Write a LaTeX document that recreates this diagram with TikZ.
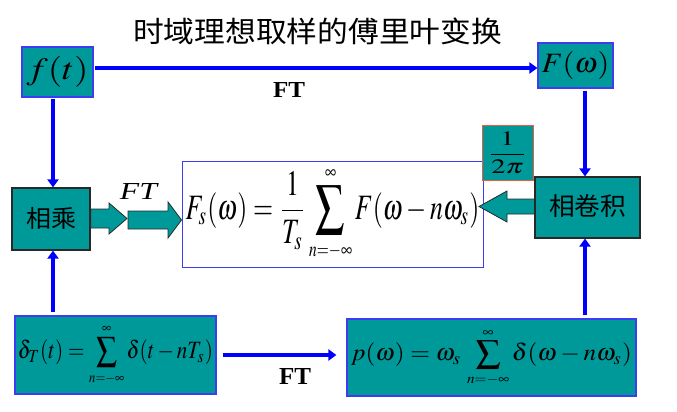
\documentclass[tikz,border=0pt]{standalone}
\usepackage{mathptmx}
\usepackage{graphicx}
\usepackage{fontspec}
\setmainfont{Liberation Serif}
\newfontfamily\cjk{Noto Sans CJK SC}
\usetikzlibrary{arrows.meta}

\definecolor{tealfill}{RGB}{0,153,153}
\definecolor{linkblue}{RGB}{0,0,255}
\definecolor{edgeblue}{RGB}{60,60,240}
\definecolor{edgedark}{RGB}{40,40,40}
\definecolor{edgeorange}{RGB}{240,90,60}

% fit a piece of text to a given ink width and total height
\newcommand{\fitto}[3]{\resizebox*{#1}{#2}{#3}}
% a summation sign, enlarged from text size, with small limits n=-inf .. inf
\newcommand{\midsum}[1]{\mathop{\vcenter{\hbox{\scalebox{#1}{$\textstyle\sum$}}}}\limits_{\scriptscriptstyle n=-\infty}^{\scriptscriptstyle\infty}}

\begin{document}
\begin{tikzpicture}[x=1pt,y=-1pt,
  box/.style={draw, fill=tealfill, inner sep=0pt, line width=1.2pt},
  bluebox/.style={box, draw=edgeblue},
  darkbox/.style={box, draw=edgedark},
  formbox/.style={draw=edgeblue, fill=white, inner sep=0pt, line width=1pt},
  factorbox/.style={box, draw=edgeorange, line width=1pt},
  link/.style={draw=linkblue, line width=3.5pt, -{Triangle[length=8pt,width=11pt]}},
  fat/.style={draw=edgedark, fill=tealfill, line width=0.8pt, line join=miter},
  lbl/.style={inner sep=0pt}
]
\useasboundingbox (0,0) rectangle (677,412);

% title
\node[lbl] (title) at (317.5,31.5) {\fitto{369pt}{27pt}{\cjk 时域理想取样的傅里叶变换}};

% boxes
\node[bluebox, minimum width=71pt, minimum height=50pt] (ft) at (57.5,72)
  {\fitto{62pt}{31pt}{$f(t)$}};
\node[bluebox, minimum width=75pt, minimum height=45pt] (Fw) at (575.5,65.5)
  {\fitto{68pt}{28pt}{$F(\omega)$}};
\node[darkbox, minimum width=78pt, minimum height=62pt] (mul) at (51,219)
  {\raisebox{2.5pt}{\fitto{50pt}{22pt}{\cjk 相乘}}};
\node[darkbox, minimum width=105pt, minimum height=61pt] (conv) at (587.5,207.5)
  {\raisebox{4pt}{\fitto{77pt}{23pt}{\cjk 相卷积}}};
\node[formbox, minimum width=301pt, minimum height=106pt] (form) at (332.5,214)
  {\fitto{294pt}{95pt}{$\displaystyle F_s(\omega)=\frac{1}{T_s}\midsum{1.6}F(\omega-n\omega_s)$}};
\node[factorbox, minimum width=51pt, minimum height=55pt] (inv) at (507.5,152.5)
  {\raisebox{-2.5pt}{\fitto{39pt}{42pt}{$\displaystyle\frac{1}{2\pi}$}}};
\node[bluebox, minimum width=201pt, minimum height=78pt] (dT) at (115.5,355)
  {\fitto{195pt}{62pt}{$\delta_T(t)=\midsum{1.4}\delta(t-nT_s)$}};
\node[bluebox, minimum width=289pt, minimum height=77pt] (pw) at (491.5,357.5)
  {\fitto{281pt}{59pt}{$p(\omega)=\omega_s\,\midsum{1.4}\delta(\omega-n\omega_s)$}};

% labels
\node[lbl] (fttop) at (289,89.5) {\fitto{32pt}{15pt}{\bfseries FT}};
\node[lbl] (ftbot) at (295,376.5) {\fitto{32pt}{16pt}{\bfseries FT}};
\node[lbl] (ftit) at (138.5,191) {\fitto{37pt}{16pt}{\itshape FT}};

% guide coordinates for the connectors
\coordinate (topy) at (0,68);
\coordinate (leftx) at (53,0);
\coordinate (rightx) at (585,0);

% thin blue connectors
\draw[link, shorten <=1.5pt] (ft.east |- topy) -- (Fw.west |- topy);
\draw[link, shorten <=1pt] (ft.south -| leftx) -- (mul.north -| leftx);
\draw[link, shorten <=3pt] (dT.north -| leftx) -- (mul.south -| leftx);
\draw[link, shorten <=2pt] (Fw.south -| rightx) -- (conv.north -| rightx);
\draw[link, shorten <=3pt] (pw.north -| rightx) -- (conv.south -| rightx);
\draw[link, shorten <=6pt, shorten >=10pt] (dT.east) -- (pw.west |- dT.east);

% block arrows
\draw[fat] (mul.east |- 0,209) -- (109,209) -- (109,203) -- (127,218.5)
  -- (109,234) -- (109,228) -- (mul.east |- 0,228) -- cycle;
\draw[fat] (128,211) -- (168,211) -- (168,202) -- (form.west |- 0,220)
  -- (168,238) -- (168,229) -- (128,229) -- cycle;
\draw[fat] (conv.west |- 0,199) -- (507,199) -- (507,191) -- (479,206.5)
  -- (507,222) -- (507,214) -- (conv.west |- 0,214) -- cycle;
\end{tikzpicture}
\end{document}
